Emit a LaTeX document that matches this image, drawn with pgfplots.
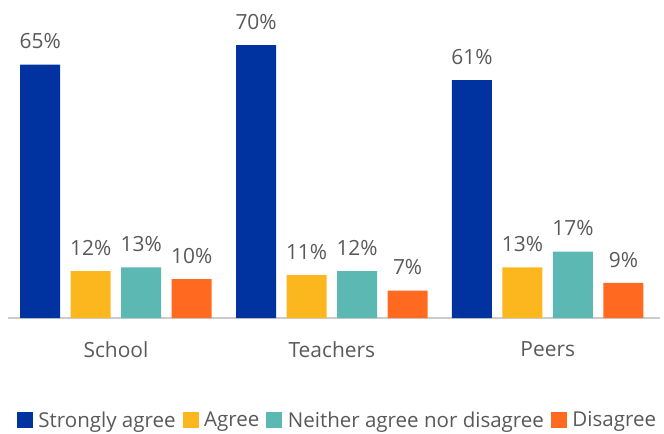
\documentclass[border=0pt]{standalone}
\usepackage{pgfplots}
\pgfplotsset{compat=1.18}
\usepackage{fontspec}
\setmainfont{Open Sans}
\definecolor{cblue}{RGB}{0,51,160}
\definecolor{cyellow}{RGB}{253,183,30}
\definecolor{cteal}{RGB}{91,184,178}
\definecolor{corange}{RGB}{255,105,32}
\definecolor{textgray}{RGB}{89,89,89}
\begin{document}
\begin{tikzpicture}
\path[use as bounding box] (-8bp,-116bp) rectangle (656bp,318bp);
\begin{axis}[
  at={(0,0)}, anchor=south west,
  scale only axis, width=652bp, height=312bp,
  ymin=0, ymax=80, xmin=-0.5, xmax=2.52,
  enlargelimits=false,
  /pgf/number format/assume math mode=true,
  ybar=10.5bp, bar width=40bp,
  axis y line=none, axis x line*=bottom,
  x axis line style={draw=gray!40, line width=1.2pt},
  xtick={0,1,2}, xticklabels={School,Teachers,Peers},
  major tick length=0pt,
  xticklabel style={font=\fontsize{21}{24}\selectfont, text=textgray, yshift=-20bp},
  nodes near coords={\pgfmathprintnumber{\pgfplotspointmeta}\%},
  every node near coord/.append style={font=\fontsize{21}{24}\selectfont, text=textgray, yshift=12bp},
  legend style={at={(329.5/652,-102/312)}, anchor=center, legend columns=-1, draw=none,
    font=\fontsize{20.6}{24}\selectfont, text=textgray, inner xsep=0pt,
    /tikz/every odd column/.append style={column sep=3.5bp},
    /tikz/every even column/.append style={column sep=5bp}},
  legend image code/.code={\fill[#1,draw=none] (0bp,-8bp) rectangle (16bp,8bp);},
  clip=false,
]
\addplot[fill=cblue, draw=none] coordinates {(0,65) (1,70) (2,61)};
\addplot[fill=cyellow, draw=none] coordinates {(0,12) (1,11) (2,13)};
\addplot[fill=cteal, draw=none] coordinates {(0,13) (1,12) (2,17)};
\addplot[fill=corange, draw=none] coordinates {(0,10) (1,7) (2,9)};
\legend{Strongly agree, Agree, Neither agree nor disagree, Disagree}
\end{axis}
\end{tikzpicture}
\end{document}
